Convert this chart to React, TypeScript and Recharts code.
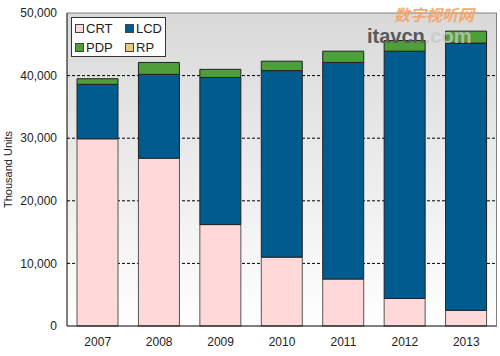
import React from 'react';
import { BarChart, Bar, XAxis, YAxis, CartesianGrid, ReferenceLine } from 'recharts';

const years = ['2007', '2008', '2009', '2010', '2011', '2012', '2013'];
const crt = [29900, 26800, 16200, 11000, 7500, 4400, 2500];
const lcd = [8700, 13400, 23500, 29800, 34600, 39500, 42700];
const pdp = [900, 1900, 1300, 1500, 1800, 1700, 1900];
const rp = [0, 0, 0, 0, 0, 0, 0];
const yTicks = [0, 10000, 20000, 30000, 40000, 50000];

const data = years.map((y, i) => ({ year: y, CRT: crt[i], LCD: lcd[i], PDP: pdp[i], RP: rp[i] }));

const FONT = '"Liberation Sans", Arial, sans-serif';

const legendItems = [
  { name: 'CRT', color: '#FFD9D9' },
  { name: 'LCD', color: '#005B8E' },
  { name: 'PDP', color: '#4E9E3A' },
  { name: 'RP', color: '#E6CC7A' },
];

const LegendBox = () => (
  <div
    style={{
      position: 'absolute',
      left: 71,
      top: 17,
      width: 95,
      height: 40,
      border: '1px solid #333',
      background: '#fff',
      boxSizing: 'border-box',
      fontFamily: FONT,
      fontSize: 13,
      color: '#222',
      display: 'grid',
      gridTemplateColumns: '50px 42px',
      gridTemplateRows: '19px 19px',
      padding: '1px 0 0 3px',
    }}
  >
    {legendItems.map((it) => (
      <div key={it.name} style={{ display: 'flex', alignItems: 'center', lineHeight: '14px' }}>
        <span
          style={{
            display: 'inline-block',
            width: 7,
            height: 7,
            background: it.color,
            border: '1px solid #444',
            marginRight: 2,
          }}
        />
        {it.name}
      </div>
    ))}
  </div>
);

export default function App() {
  return (
    <div style={{ position: 'absolute', left: 0, top: 0, width: 500, height: 356, background: '#fff' }}>
      <BarChart
        width={500}
        height={356}
        data={data}
        margin={{ top: 13, right: 3, left: 0, bottom: 0 }}
        barSize={41}
      >
        <defs>
          <linearGradient id="bgGrad" x1="0" y1="0" x2="0" y2="1">
            <stop offset="0%" stopColor="#d9d9d9" />
            <stop offset="100%" stopColor="#ffffff" />
          </linearGradient>
        </defs>
        <CartesianGrid
          vertical={false}
          fill="url(#bgGrad)"
          fillOpacity={1}
          stroke="#000"
          strokeDasharray="3 2"
          horizontalValues={[10000, 20000, 30000, 40000]}
        />
        <XAxis
          dataKey="year"
          height={30}
          tickLine={false}
          tickMargin={5}
          axisLine={{ stroke: '#000' }}
          tick={{ fill: '#222', fontSize: 12, fontFamily: FONT }}
        />
        <YAxis
          width={67}
          domain={[0, 50000]}
          ticks={yTicks}
          tickLine={false}
          tickMargin={4}
          axisLine={{ stroke: '#000' }}
          tickFormatter={(v: number) => v.toLocaleString('en-US')}
          tick={{ fill: '#222', fontSize: 12, fontFamily: FONT }}
          label={{
            value: 'Thousand Units',
            angle: -90,
            position: 'insideLeft',
            offset: 8,
            style: { textAnchor: 'middle', fill: '#222', fontSize: 11, fontFamily: FONT },
          }}
        />
        <ReferenceLine y={50000} stroke="#808080" />
        <Bar dataKey="CRT" stackId="a" fill="#FFD9D9" stroke="#555" strokeWidth={1} isAnimationActive={false} />
        <Bar dataKey="LCD" stackId="a" fill="#005B8E" stroke="#222" strokeWidth={1} isAnimationActive={false} />
        <Bar dataKey="PDP" stackId="a" fill="#4E9E3A" stroke="#222" strokeWidth={1} isAnimationActive={false} />
        <Bar dataKey="RP" stackId="a" fill="#E6CC7A" stroke="none" isAnimationActive={false} />
      </BarChart>
      <LegendBox />
      <div style={{ position: 'absolute', left: 496, top: 13, width: 1, height: 313, background: '#808080' }} />
      <svg style={{ position: 'absolute', left: 0, top: 0, pointerEvents: 'none' }} width={500} height={356}>
        <text
          x={394}
          y={21}
          fill="#F4A468"
          fontSize={16}
          fontWeight="bold"
          fontStyle="italic"
          fontFamily='"Noto Sans CJK SC", sans-serif'
          opacity={0.9}
        >
          数字视听网
        </text>
        <text x={367} y={43} fontSize={20} fontFamily='"Liberation Sans", Arial, sans-serif' fontWeight="bold">
          <tspan fill="#5a5a5a">itavcn</tspan>
          <tspan fill="#c8c8c8" fillOpacity={0.8}>.com</tspan>
        </text>
      </svg>
    </div>
  );
}
